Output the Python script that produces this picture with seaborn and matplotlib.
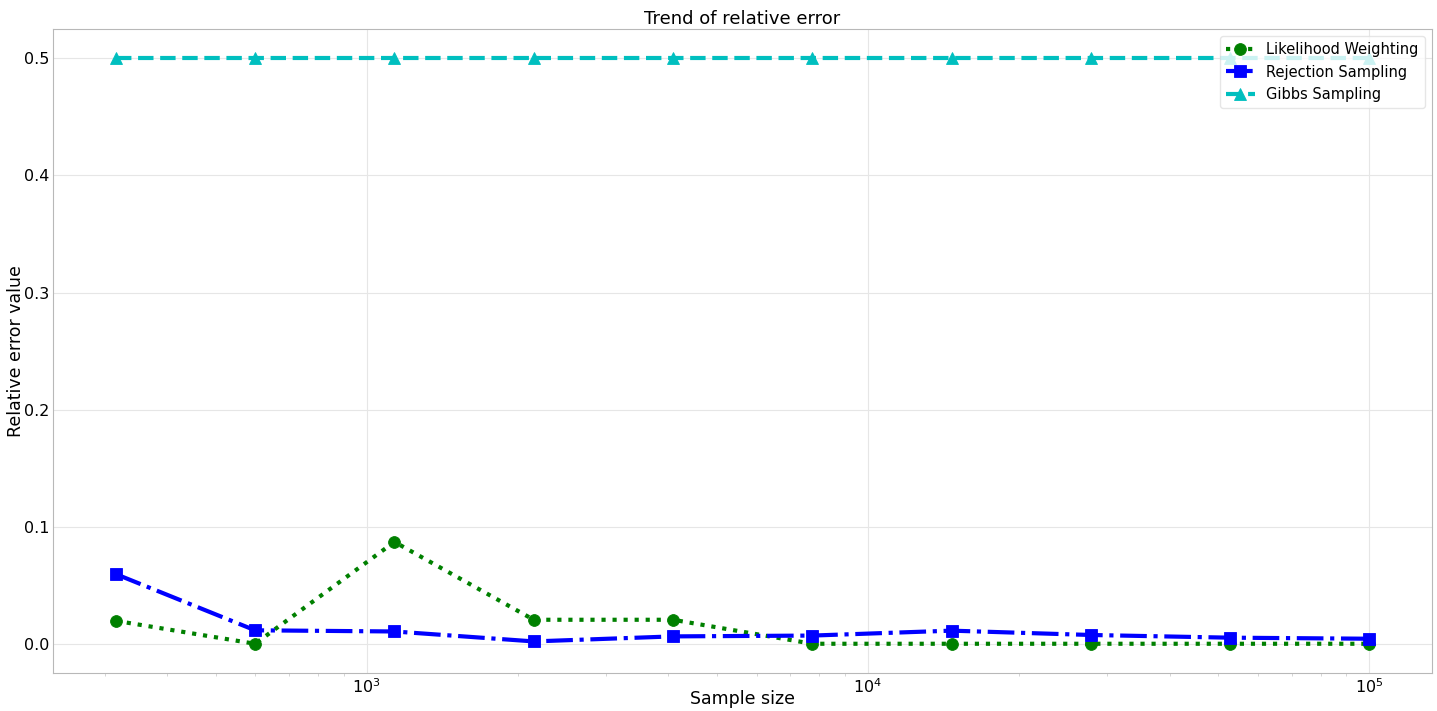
import matplotlib
matplotlib.use("Agg")
import matplotlib.pyplot as plt
import seaborn as sns
import pandas as pd

sample_sizes = [316, 599, 1136, 2154, 4084, 7743, 14678, 27826, 52749, 100000]
likelihood_weighting = [0.0196, 0.0, 0.087, 0.0205, 0.0205, 0.0, 0.0, 0.0, 0.0, 0.0]
rejection_sampling = [0.0595, 0.0115, 0.0105, 0.0020, 0.0063, 0.0070, 0.0112, 0.0075, 0.0052, 0.0043]
gibbs_sampling = [0.5, 0.5, 0.5, 0.5, 0.5, 0.5, 0.5, 0.5, 0.5, 0.5]

series = [
    ("Likelihood Weighting", likelihood_weighting, "#008000", ":", "o"),
    ("Rejection Sampling", rejection_sampling, "#0000ff", "-.", "s"),
    ("Gibbs Sampling", gibbs_sampling, "#00bfbf", "--", "^"),
]

sns.set_style("whitegrid", rc={
    "grid.color": "#e6e6e6",
    "grid.linewidth": 0.8,
    "axes.edgecolor": "#b8b8b8",
    "axes.linewidth": 1.0,
    "text.color": "black",
    "axes.labelcolor": "black",
    "xtick.color": "black",
    "ytick.color": "black",
})
plt.rcParams["font.family"] = ["DejaVu Sans"]

fig, ax = plt.subplots(figsize=(14.37, 7.11), dpi=100)
for name, vals, color, ls, mk in series:
    df = pd.DataFrame({"x": sample_sizes, "y": vals})
    sns.lineplot(data=df, x="x", y="y", ax=ax, color=color, linestyle=ls,
                 marker=mk, markersize=8.5, linewidth=3, label=name,
                 markeredgecolor=color, markeredgewidth=0.6)
ax.set_xscale("log")
ax.set_title("Trend of relative error", fontsize=13, pad=4)
ax.set_xlabel("Sample size", fontsize=12.5, labelpad=-4)
ax.set_ylabel("Relative error value", fontsize=12.5, labelpad=-1)
ax.tick_params(axis="both", which="major", labelsize=11.5, length=0, pad=3)
ax.tick_params(axis="x", which="minor", bottom=True, length=2.5, width=0.6, color="#cfcfcf")
ax.legend(loc="upper right", fontsize=10.5, framealpha=0.8, edgecolor="#e0e0e0")
fig.subplots_adjust(left=0.037, right=0.9965, top=0.959, bottom=0.0534)
fig.savefig("out.png", dpi=100)
